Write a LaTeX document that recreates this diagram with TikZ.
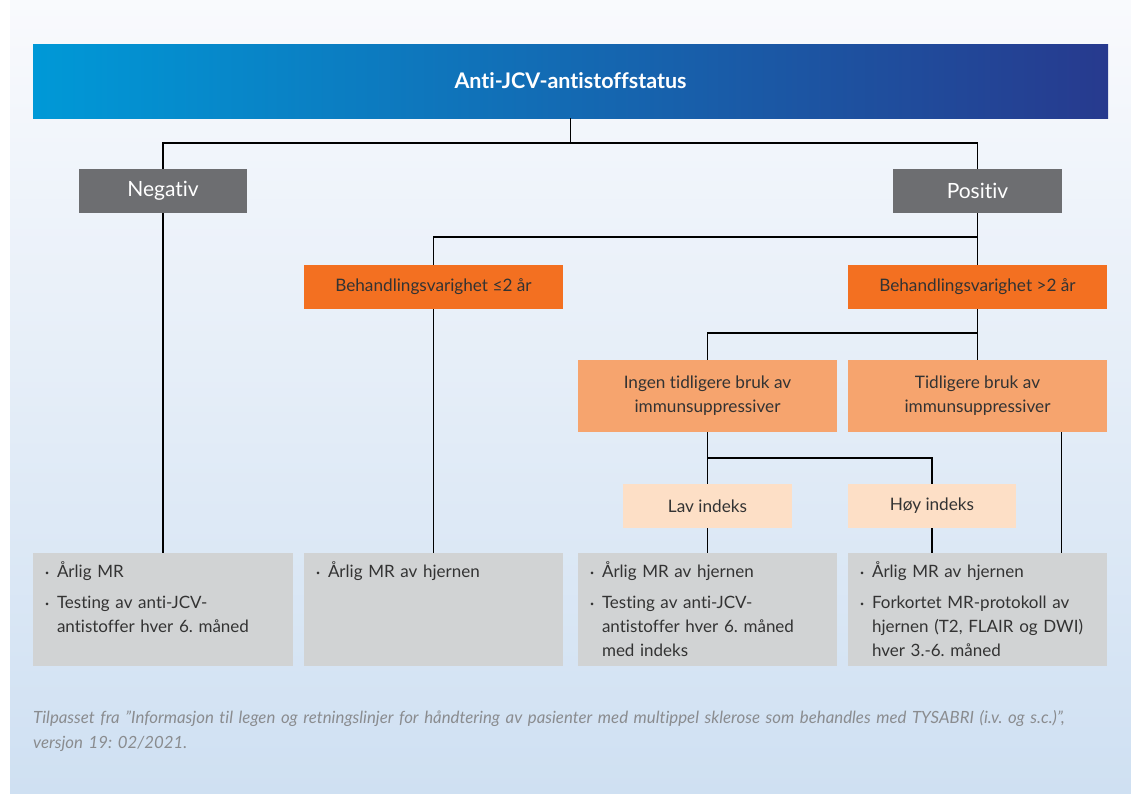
\documentclass[tikz,border=0pt]{standalone}
\usepackage{fontspec}
\setmainfont{Lato}[Ligatures=NoCommon]
\usepackage{xcolor}
\usetikzlibrary{positioning,calc}
\frenchspacing

\definecolor{hdrL}{HTML}{0099D7}
\definecolor{hdrM}{HTML}{0063AB}
\definecolor{hdrR}{HTML}{273A8E}
\definecolor{bgTop}{HTML}{F9FAFD}
\definecolor{bgBot}{HTML}{CFE0F2}
\definecolor{darkgrey}{HTML}{6D6E71}
\definecolor{orangeA}{HTML}{F37021}
\definecolor{orangeB}{HTML}{F6A46E}
\definecolor{peach}{HTML}{FDDFC6}
\definecolor{resgrey}{HTML}{D1D3D4}
\definecolor{txt}{HTML}{333333}
\definecolor{notegrey}{HTML}{8A8C8F}

\newcommand{\bitem}[1]{\par\hangindent=12pt\hangafter=1\noindent\makebox[12pt][l]{\raisebox{2pt}{\scriptsize\textbullet}}#1\par\vspace{7pt}}

\tikzset{
  box/.style={rectangle, inner sep=0, align=center, text=txt},
  greybox/.style={box, fill=darkgrey, text=white, minimum height=44pt, font=\fontsize{21}{24}\selectfont},
  lvl1/.style={box, fill=orangeA, minimum height=44pt, minimum width=259pt, font=\fontsize{17.2}{22}\selectfont},
  lvl2/.style={box, fill=orangeB, minimum height=72pt, minimum width=259pt, font=\fontsize{17.2}{24}\selectfont},
  lvl3/.style={box, fill=peach, minimum height=44pt, font=\fontsize{17.2}{22}\selectfont},
  resbox/.style={box, fill=resgrey, minimum height=113pt},
  restext/.style={anchor=north west, inner sep=0, text width=240pt, align=left, text=txt, font=\fontsize{17}{24}\selectfont},
  link/.style={draw=black, line width=1.6pt}
}

\begin{document}
\begin{tikzpicture}[x=1pt, y=-1pt]
    \useasboundingbox (0,0) rectangle (1131,793);
    \shade[top color=bgTop, bottom color=bgBot] (10,0) rectangle (1131,793);

    \node[box, minimum width=1075pt, minimum height=74pt, left color=hdrL, middle color=hdrM, right color=hdrR,
          text=white, font=\fontsize{21.5}{24}\selectfont\bfseries] (hdr) at (570.5,81) {Anti-JCV-antistoffstatus};

    \node[greybox, minimum width=168pt] (neg) at (163,191) {Negativ};
    \node[greybox, minimum width=169pt] (pos) at (977.5,191) {Positiv};

    \node[lvl1] (le) at (433.5,287) {Behandlingsvarighet ≤2 år};
    \node[lvl1] (gt) at (977.5,287) {Behandlingsvarighet >2 år};

    \node[lvl2] (noprev) at (707.5,396) {Ingen tidligere bruk av\\immunsuppressiver};
    \node[lvl2] (prev) at (977.5,396) {Tidligere bruk av\\immunsuppressiver};

    \node[lvl3, minimum width=169pt] (lav) at (707.5,506) {Lav indeks};
    \node[lvl3, minimum width=168pt] (hoy) at (932,506) {Høy indeks};

    \node[resbox, minimum width=260pt] (r1) at (163,609.5) {};
    \node[resbox, minimum width=259pt] (r2) at (433.5,609.5) {};
    \node[resbox, minimum width=259pt] (r3) at (707.5,609.5) {};
    \node[resbox, minimum width=259pt] (r4) at (977.5,609.5) {};

    \node[restext] (r1t) at ([xshift=12pt]r1.north west)
        {\bitem{Årlig MR}\bitem{Testing av anti-JCV-\newline antistoffer hver 6. måned}};
    \node[restext] (r2t) at ([xshift=12pt]r2.north west)
        {\bitem{Årlig MR av hjernen}};
    \node[restext] (r3t) at ([xshift=12pt]r3.north west)
        {\bitem{Årlig MR av hjernen}\bitem{Testing av anti-JCV-\newline antistoffer hver 6. måned\newline med indeks}};
    \node[restext] (r4t) at ([xshift=12pt]r4.north west)
        {\bitem{Årlig MR av hjernen}\bitem{Forkortet MR-protokoll av\newline hjernen (T2, FLAIR og DWI)\newline hver 3.-6. måned}};

    % connectors
    \coordinate (j1) at (570.5,143);
    \coordinate (j2) at (977.5,237);
    \coordinate (j3) at (977.5,333);
    \coordinate (j4) at (707.5,458);
    \coordinate (t1) at ([xshift=84pt]prev.south);

    \draw[link] (hdr.south) -- (j1);
    \draw[link] (neg.north) |- (j1) -| (pos.north);
    \draw[link] (neg) -- (r1);
    \draw[link] (pos) -- (gt);
    \draw[link] (le.north) |- (j2);
    \draw[link] (le) -- (r2);
    \draw[link] (gt) -- (prev);
    \draw[link] (noprev.north) |- (j3);
    \draw[link] (noprev) -- (lav);
    \draw[link] (lav) -- (r3);
    \draw[link] (hoy.north) |- (j4);
    \draw[link] (hoy.south) -- (hoy.south |- r4.north);
    \draw[link] (t1) -- (t1 |- r4.north);

    \node[anchor=north west, inner sep=0, text width=1090pt, align=left, text=notegrey,
          font=\fontsize{16.8}{25}\selectfont\itshape] (src) at (33,710)
        {Tilpasset fra "Informasjon til legen og retningslinjer for håndtering av pasienter med multippel sklerose som behandles med TYSABRI (i.v. og s.c.)",\newline versjon 19: 02/2021.};
\end{tikzpicture}
\end{document}
